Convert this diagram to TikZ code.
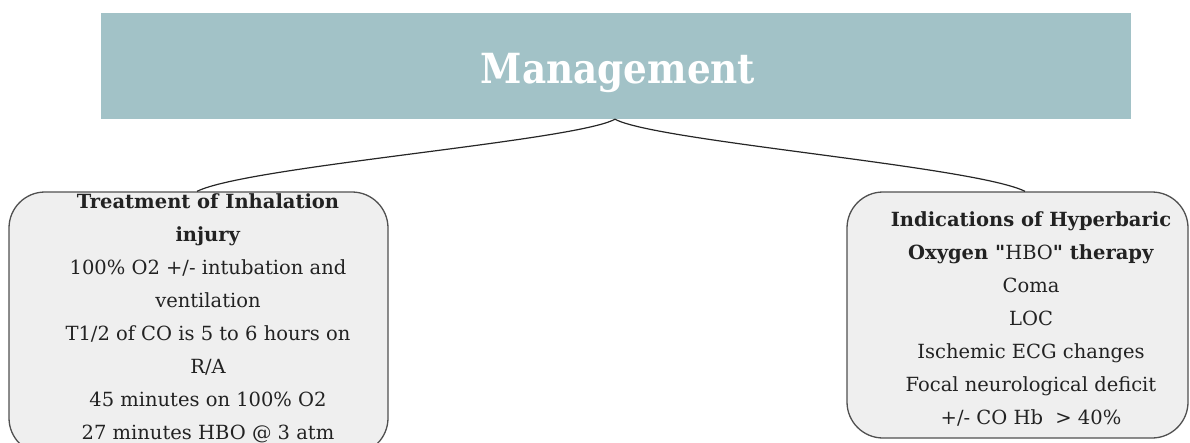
\documentclass[tikz,border=0pt]{standalone}
\usepackage{fontspec}
\newfontfamily\bodyfont{DejaVu Serif}
\newfontfamily\titlefont{DejaVu Serif Condensed Bold}
\definecolor{bannerc}{HTML}{A2C2C7}
\definecolor{boxfill}{HTML}{EFEFEF}
\definecolor{boxline}{HTML}{505050}
\definecolor{txt}{HTML}{222222}
\tikzset{
  banner/.style={fill=bannerc, draw=none, inner sep=0pt},
  roundbox/.style={fill=boxfill, draw=boxline, line width=1.3pt, rounded corners=36pt, inner sep=0pt},
  boxtext/.style={align=center, text=txt, inner sep=0pt, font=\bodyfont\fontsize{19.5}{33}\selectfont},
  titletext/.style={text=white, inner sep=0pt, font=\titlefont\fontsize{41.5}{44}\selectfont},
  conn/.style={draw=black!85, line width=1.2pt}
}
\begin{document}
\begin{tikzpicture}[x=1pt,y=1pt]
\useasboundingbox (0,0) rectangle (1190,-442);
\node[banner, minimum width=1030pt, minimum height=106pt] (top) at (616,-66) {};
\node[titletext, anchor=base] (title) at (618,-83) {Management};
\begin{scope}
\clip (0,0) rectangle (1190,-442);
\node[roundbox, minimum width=379pt, minimum height=262pt] (L) at (198.5,-323) {};
\node[roundbox, minimum width=341pt, minimum height=246pt] (R) at (1017.5,-315) {};
\end{scope}
% anchor=base is the baseline of the last line
\node[boxtext, anchor=base] (Lt) at (208,-439) {\textbf{Treatment of Inhalation}\\\textbf{injury}\\100\% O2 +/- intubation and\\ventilation\\T1/2 of CO is 5 to 6 hours on\\R/A\\45 minutes on 100\% O2\\27 minutes HBO @ 3 atm};
\node[boxtext, anchor=base] (Rt) at (1031,-424) {\textbf{Indications of Hyperbaric}\\\textbf{Oxygen "}HBO\textbf{" therapy}\\Coma\\LOC\\Ischemic ECG changes\\Focal neurological deficit\\+/- CO Hb\ \ > 40\%};
\coordinate (J) at ([xshift=-1pt]top.south);
\coordinate (Lend) at ([xshift=-1.5pt]L.north);
\coordinate (Rend) at ([xshift=7.5pt]R.north);
\draw[conn] (J) .. controls ([shift={(-40pt,-22pt)}]J) and ([shift={(50pt,25pt)}]Lend) .. (Lend);
\draw[conn] (J) .. controls ([shift={(40pt,-22pt)}]J) and ([shift={(-50pt,25pt)}]Rend) .. (Rend);
\end{tikzpicture}
\end{document}
